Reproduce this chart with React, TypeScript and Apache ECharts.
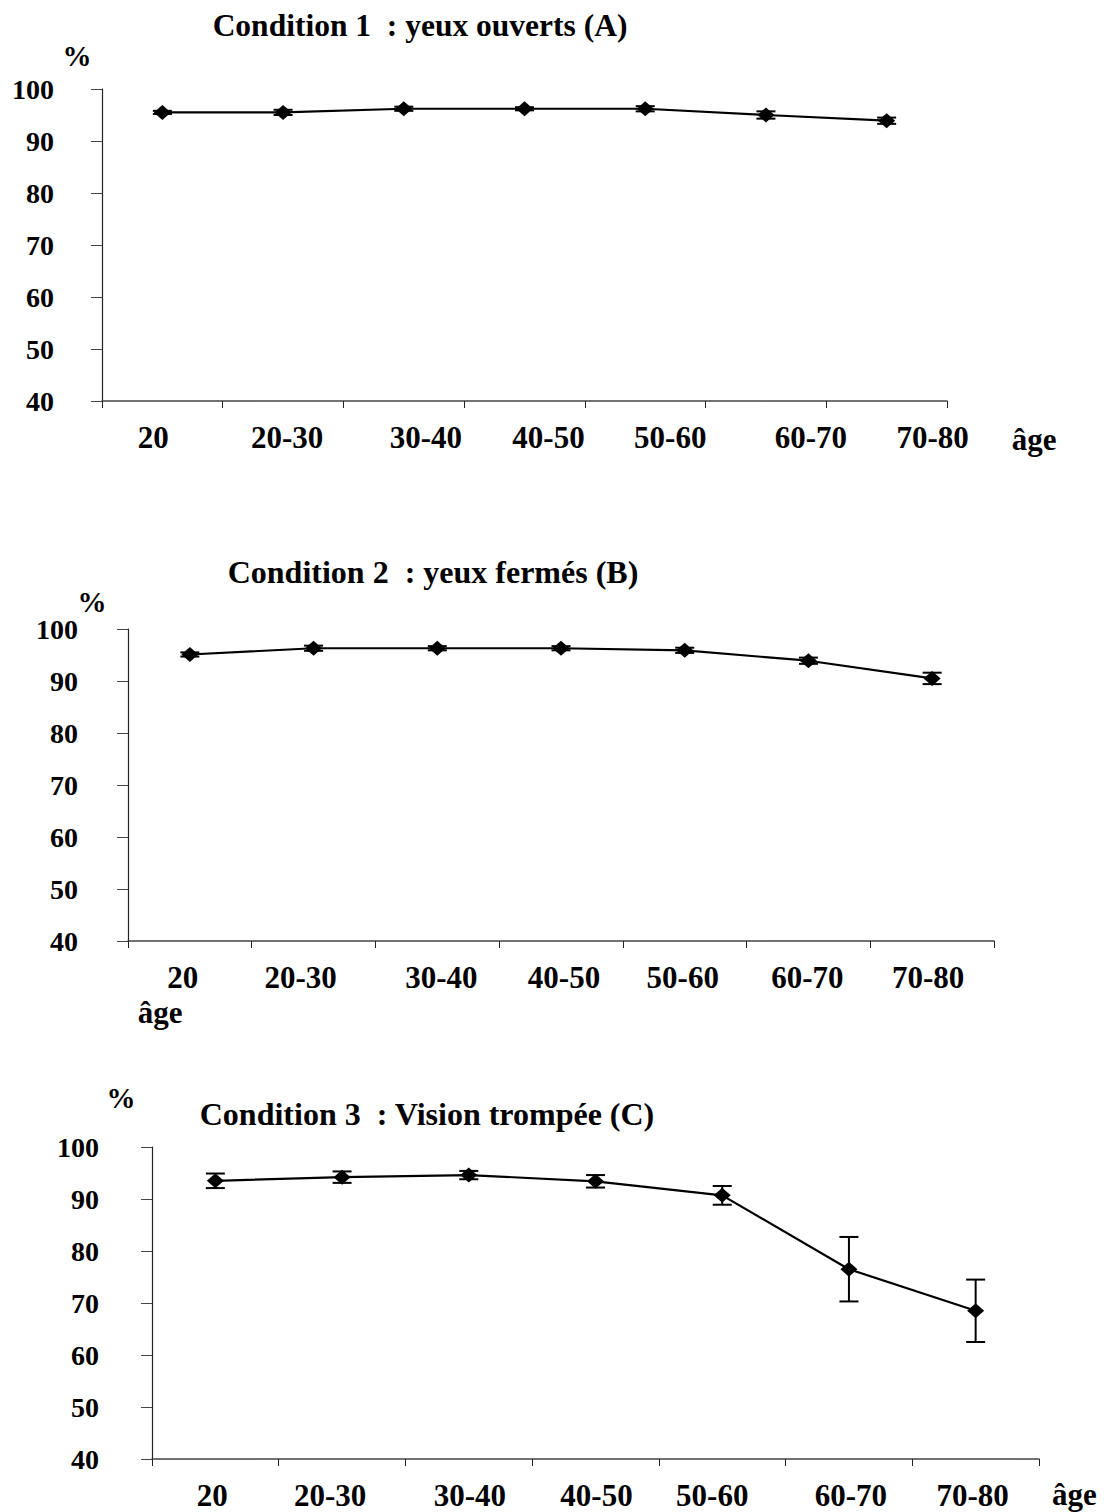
import React, { useEffect, useRef } from "react";
import * as echarts from "echarts";

const categories = ["20", "20-30", "30-40", "40-50", "50-60", "60-70", "70-80"];
const yMin = 40;
const yMax = 100;
const yStep = 10;

const titleA = "Condition 1  : yeux ouverts (A)";
const titleB = "Condition 2  : yeux fermés (B)";
const titleC = "Condition 3  : Vision trompée (C)";

const meanA = [95.5, 95.5, 96.2, 96.2, 96.2, 95.0, 93.9];
const errA = [0.3, 0.5, 0.4, 0.3, 0.5, 0.7, 0.6];

const meanB = [95.1, 96.3, 96.3, 96.3, 95.9, 93.9, 90.5];
const errB = [0.4, 0.5, 0.4, 0.4, 0.5, 0.6, 1.1];

const meanC = [93.5, 94.2, 94.6, 93.4, 90.7, 76.5, 68.5];
const errC = [1.4, 1.1, 0.8, 1.2, 1.8, 6.2, 6.0];

// label horizontal shifts (style only)
const shiftA = [-9, 4, 22, 24, 25, 45, 46];
const shiftB = [-7, -13, 4, 3, -2, -1, -4];
const shiftC = [-3, -12, 1, 1, -10, 2, -3];

const FONT = "'Liberation Serif', 'Times New Roman', serif";

export default function App() {
  const ref = useRef<HTMLDivElement>(null);
  useEffect(() => {
    if (!ref.current) return;
    const chart = echarts.init(ref.current, null, { renderer: "svg" });

    const grids = [
      { left: 102, top: 89, width: 845, height: 312 },
      { left: 128, top: 629, width: 866, height: 312 },
      { left: 152, top: 1147, width: 887, height: 312 },
    ];
    const yMargins = [48, 50, 53];
    const shifts = [shiftA, shiftB, shiftC];
    const means = [meanA, meanB, meanC];
    const errs = [errA, errB, errC];

    const xAxes = grids.map((g, gi) => ({
      type: "category",
      gridIndex: gi,
      boundaryGap: true,
      data: categories.map((c, i) => {
        const s = shifts[gi][i];
        return {
          value: c,
          textStyle: { padding: s >= 0 ? [0, 0, 0, 2 * s] : [0, -2 * s, 0, 0] },
        };
      }),
      axisLine: { lineStyle: { color: "#444", width: 1.5 } },
      axisTick: { show: true, length: 7, lineStyle: { color: "#222", width: 1 } },
      axisLabel: {
        margin: 21,
        fontFamily: FONT,
        fontWeight: "bold",
        fontSize: 31,
        color: "#000",
        interval: 0,
      },
      splitLine: { show: false },
    }));

    const yAxes = grids.map((g, gi) => ({
      type: "value",
      gridIndex: gi,
      min: yMin,
      max: yMax,
      interval: yStep,
      axisLine: { show: true, lineStyle: { color: "#222", width: 1.2 } },
      axisTick: { show: true, length: 11, lineStyle: { color: "#444", width: 1 } },
      axisLabel: {
        margin: yMargins[gi],
        fontFamily: FONT,
        fontWeight: "bold",
        fontSize: 28,
        color: "#000",
      },
      splitLine: { show: false },
    }));

    const series: any[] = [];
    grids.forEach((g, gi) => {
      series.push({
        type: "custom",
        xAxisIndex: gi,
        yAxisIndex: gi,
        z: 1,
        data: categories.map((c, i) => [i, means[gi][i] - errs[gi][i], means[gi][i] + errs[gi][i]]),
        renderItem: (params: any, api: any) => {
          const x = api.value(0);
          const top = api.coord([x, api.value(2)]);
          const bot = api.coord([x, api.value(1)]);
          const hw = 9.5;
          const st = { stroke: "#000", lineWidth: 2 };
          return {
            type: "group",
            children: [
              { type: "line", shape: { x1: top[0], y1: top[1], x2: bot[0], y2: bot[1] }, style: st },
              { type: "line", shape: { x1: top[0] - hw, y1: top[1], x2: top[0] + hw, y2: top[1] }, style: st },
              { type: "line", shape: { x1: bot[0] - hw, y1: bot[1], x2: bot[0] + hw, y2: bot[1] }, style: st },
            ],
          };
        },
      });
      series.push({
        type: "line",
        xAxisIndex: gi,
        yAxisIndex: gi,
        z: 3,
        data: means[gi],
        symbol: "diamond",
        symbolSize: [17, 15],
        itemStyle: { color: "#000" },
        lineStyle: { color: "#000", width: 2.2 },
      });
    });

    const txt = (text: string, x: number, y: number, size: number, align = "center") => ({
      type: "text",
      x,
      y,
      style: {
        text,
        fontFamily: FONT,
        fontWeight: "bold",
        fontSize: size,
        fill: "#000",
        textAlign: align,
        textVerticalAlign: "middle",
      },
    });

    chart.setOption({
      animation: false,
      backgroundColor: "#fff",
      grid: grids.map((g) => ({ ...g, containLabel: false })),
      xAxis: xAxes,
      yAxis: yAxes,
      series,
      graphic: [
        txt(titleA, 420, 25, 31.5),
        txt("%", 77, 56, 29),
        txt("âge", 1034, 439, 31),
        txt(titleB, 433, 572, 32),
        txt("%", 92, 602, 29),
        txt("âge", 160, 1012, 31),
        txt(titleC, 427, 1114, 32),
        txt("%", 121, 1098, 29),
        txt("âge", 1052, 1494, 31, "left"),
      ],
    });
    return () => chart.dispose();
  }, []);
  return (
    <div
      ref={ref}
      style={{ position: "absolute", left: 0, top: 0, width: 1106, height: 1512, background: "#fff" }}
    />
  );
}
